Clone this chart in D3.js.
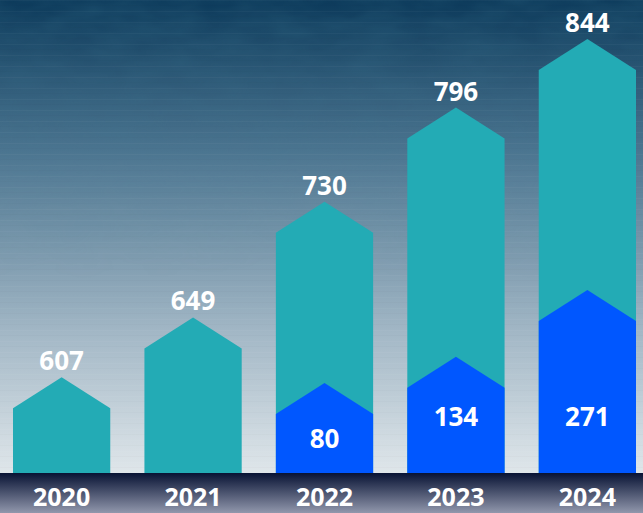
<!DOCTYPE html>
<html>
<head>
<meta charset="utf-8">
<script src="https://cdn.jsdelivr.net/npm/d3@7"></script>
<style>
  html, body { margin: 0; padding: 0; background: #0e3d5e; }
  svg { display: block; }
  .valueText { fill: #ffffff; font-family: "Open Sans", sans-serif; font-weight: 700; font-size: 26px; }
  .yearText { fill: #ffffff; font-family: "Open Sans", sans-serif; font-weight: 700; font-size: 25px; }
</style>
</head>
<body>
<div id="chart"></div>
<script>
// chart values
var years = ["2020", "2021", "2022", "2023", "2024"];
var totals = [607, 649, 730, 796, 844];
var parts = [null, null, 80, 134, 271];

var width = 643, height = 513;
var baseline = 473;
var roof = 31; // height of the arrow tip

var svg = d3.select("#chart").append("svg")
    .attr("width", width)
    .attr("height", height);

var defs = svg.append("defs");

// background gradient, dark blue at top to pale grey near the axis band
var bg = defs.append("linearGradient").attr("id", "bgGrad")
    .attr("x1", 0).attr("y1", 0).attr("x2", 0).attr("y2", 1);
bg.append("stop").attr("offset", "0%").attr("stop-color", "#0c3a5b");
bg.append("stop").attr("offset", "32%").attr("stop-color", "#4c7590");
bg.append("stop").attr("offset", "72%").attr("stop-color", "#a6bac8");
bg.append("stop").attr("offset", "100%").attr("stop-color", "#dfe6ea");

var band = defs.append("linearGradient").attr("id", "bandGrad")
    .attr("x1", 0).attr("y1", 0).attr("x2", 0).attr("y2", 1);
band.append("stop").attr("offset", "0%").attr("stop-color", "#081334");
band.append("stop").attr("offset", "100%").attr("stop-color", "#9197ac");

// faint horizontal stripes
var stripes = defs.append("pattern").attr("id", "stripes")
    .attr("patternUnits", "userSpaceOnUse")
    .attr("width", 10).attr("height", 11);
stripes.append("rect").attr("width", 10).attr("height", 1).attr("fill", "#ffffff").attr("opacity", 0.03);
stripes.append("rect").attr("y", 5).attr("width", 10).attr("height", 1).attr("fill", "#000000").attr("opacity", 0.015);

// mottled texture
var noise = defs.append("filter").attr("id", "noise")
    .attr("x", 0).attr("y", 0).attr("width", "100%").attr("height", "100%");
noise.append("feTurbulence").attr("type", "fractalNoise")
    .attr("baseFrequency", "0.02 0.05").attr("numOctaves", 3).attr("seed", 4);
noise.append("feColorMatrix").attr("type", "matrix")
    .attr("values", "0 0 0 0 0.05  0 0 0 0 0.2  0 0 0 0 0.3  0 0 0 0.5 -0.1");

var texMask = defs.append("linearGradient").attr("id", "texFade")
    .attr("x1", 0).attr("y1", 0).attr("x2", 0).attr("y2", 1);
texMask.append("stop").attr("offset", "0%").attr("stop-color", "#fff").attr("stop-opacity", 1);
texMask.append("stop").attr("offset", "60%").attr("stop-color", "#fff").attr("stop-opacity", 0);
defs.append("mask").attr("id", "fadeMask")
    .append("rect").attr("width", width).attr("height", baseline).attr("fill", "url(#texFade)");

svg.append("rect").attr("width", width).attr("height", baseline).attr("fill", "url(#bgGrad)");
svg.append("rect").attr("width", width).attr("height", baseline)
    .attr("filter", "url(#noise)").attr("mask", "url(#fadeMask)").attr("opacity", 0.6);
svg.append("rect").attr("width", width).attr("height", baseline).attr("fill", "url(#stripes)");

// scales
var x = d3.scaleBand()
    .domain(years)
    .range([13, 636])
    .paddingInner(0.26)
    .paddingOuter(0);

// the bars are not drawn from zero in the original artwork
var yTotal = d3.scaleLinear().domain([540, 844]).range([baseline, 39]);
var yPart = d3.scaleLinear().domain([-105, 271]).range([baseline, 290]);

var data = years.map(function (d, i) {
    return {year: d, total: totals[i], part: parts[i]};
});

function arrowPath(d, apex) {
    var x0 = x(d.year), x1 = x0 + x.bandwidth(), cx = x0 + x.bandwidth() / 2;
    return "M" + x0 + "," + baseline +
        "L" + x0 + "," + (apex + roof) +
        "L" + cx + "," + apex +
        "L" + x1 + "," + (apex + roof) +
        "L" + x1 + "," + baseline + "Z";
}

svg.selectAll(".totalBar").data(data)
    .enter()
    .append("path")
    .attr("class", "totalBar")
    .attr("d", function (d) { return arrowPath(d, yTotal(d.total)); })
    .attr("fill", "#23abb5");

var withPart = data.filter(function (d) { return d.part != null; });

svg.selectAll(".partBar").data(withPart)
    .enter()
    .append("path")
    .attr("class", "partBar")
    .attr("d", function (d) { return arrowPath(d, yPart(d.part)); })
    .attr("fill", "#0057ff");

svg.selectAll(".totalText").data(data)
    .enter()
    .append("text")
    .attr("class", "valueText")
    .attr("text-anchor", "middle")
    .attr("x", function (d) { return x(d.year) + x.bandwidth() / 2; })
    .attr("y", function (d) { return Math.max(yTotal(d.total) - 7, 29); })
    .text(function (d) { return d.total; });

svg.selectAll(".partText").data(withPart)
    .enter()
    .append("text")
    .attr("class", "valueText")
    .attr("text-anchor", "middle")
    .attr("x", function (d) { return x(d.year) + x.bandwidth() / 2; })
    .attr("y", function (d) { return Math.max(yPart(d.part) + roof + 26, baseline - 55) + 8; })
    .text(function (d) { return d.part; });

// axis band
svg.append("rect")
    .attr("y", baseline)
    .attr("width", width)
    .attr("height", height - baseline)
    .attr("fill", "url(#bandGrad)");

svg.selectAll(".yearText").data(data)
    .enter()
    .append("text")
    .attr("class", "yearText")
    .attr("text-anchor", "middle")
    .attr("x", function (d) { return x(d.year) + x.bandwidth() / 2; })
    .attr("y", 506)
    .text(function (d) { return d.year; });
</script>
</body>
</html>
